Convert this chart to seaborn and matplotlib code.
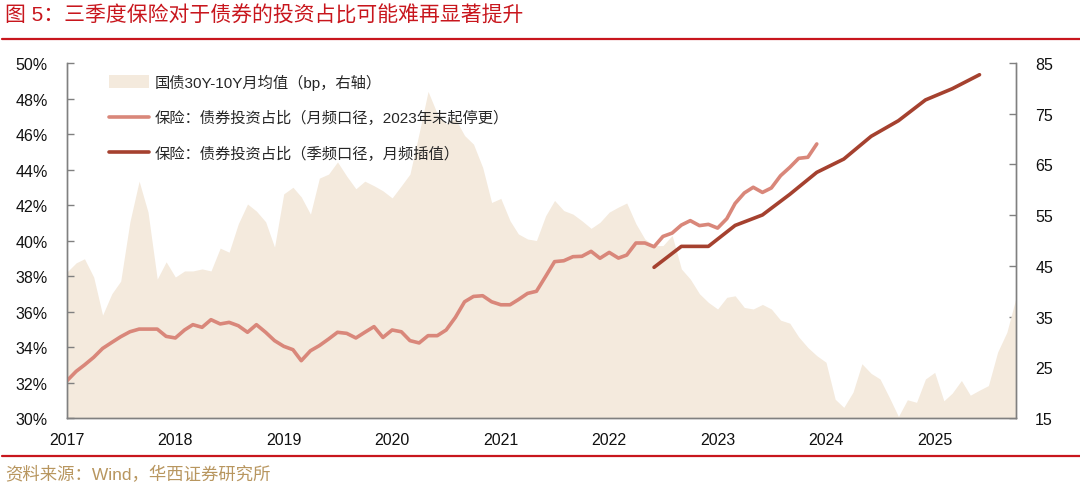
"""Insurance bond allocation vs 30Y-10Y government bond spread."""

import matplotlib

matplotlib.use("Agg")

import matplotlib.pyplot as plt
import pandas as pd
import seaborn as sns
from matplotlib.patches import Patch
from matplotlib.ticker import FuncFormatter, MultipleLocator

# 国债30Y-10Y 月均值 (bp), Jan 2017 - Oct 2025
spread_bp = [
    43.8, 45.6, 46.4, 42.8, 35.3, 39.5, 42.0, 53.7, 61.7, 55.6, 42.4, 45.8,
    42.8, 44.0, 44.0, 44.4, 44.0, 48.5, 47.7, 53.3, 57.2, 55.8, 53.7, 48.7,
    59.2, 60.5, 58.6, 55.2, 62.3, 63.1, 65.5, 62.7, 60.2, 61.7, 60.8, 59.8,
    58.4, 60.8, 63.1, 71.2, 79.4, 75.0, 73.0, 74.0, 70.7, 69.0, 64.4, 57.5,
    58.3, 53.9, 51.3, 50.3, 50.0, 54.9, 57.9, 55.9, 55.2, 53.9, 52.4, 53.6,
    55.6, 56.6, 57.4, 53.3, 50.3, 49.0, 49.0, 51.0, 44.4, 42.4, 39.5, 37.8,
    36.5, 38.8, 39.1, 36.8, 36.5, 37.4, 36.5, 34.3, 33.7, 31.0, 28.9, 27.3,
    26.0, 18.7, 17.1, 20.1, 25.7, 23.8, 22.7, 19.1, 15.3, 18.6, 18.1, 22.7,
    24.0, 18.4, 19.9, 22.4, 19.5, 20.5, 21.4, 28.0, 31.9, 38.5,
]

# 保险：债券投资占比 (月频口径), Jan 2017 - Dec 2023, %
monthly_share = [
    32.10, 32.63, 32.99, 33.42, 33.92, 34.26, 34.58, 34.86, 35.01, 35.01, 35.01, 34.60,
    34.51, 34.96, 35.26, 35.11, 35.54, 35.30, 35.39, 35.20, 34.83, 35.26, 34.83, 34.36,
    34.04, 33.85, 33.23, 33.79, 34.08, 34.45, 34.83, 34.77, 34.51, 34.83, 35.15, 34.54,
    34.96, 34.86, 34.36, 34.23, 34.64, 34.64, 34.96, 35.67, 36.55, 36.85, 36.89, 36.55,
    36.38, 36.38, 36.67, 37.02, 37.14, 37.98, 38.81, 38.86, 39.09, 39.11, 39.39, 39.00,
    39.33, 39.01, 39.18, 39.86, 39.86, 39.65, 40.23, 40.42, 40.87, 41.12, 40.84, 40.91,
    40.70, 41.23, 42.09, 42.68, 43.00, 42.71, 42.96, 43.65, 44.12, 44.63, 44.69, 45.44,
]

# 保险：债券投资占比 (季频口径), quarter ends Jun 2022 - Jun 2025, %
quarter_ends = [
    "2022-06", "2022-09", "2022-12", "2023-03", "2023-06", "2023-09", "2023-12",
    "2024-03", "2024-06", "2024-09", "2024-12", "2025-03", "2025-06",
]
quarterly_share = [
    38.49, 39.67, 39.67, 40.85, 41.44, 42.60, 43.84,
    44.59, 45.87, 46.75, 47.92, 48.55, 49.34,
]

right_ticks = [15, 25, 35, 45, 55, 65, 75, 85]

TITLE = "图 5：三季度保险对于债券的投资占比可能难再显著提升"
SOURCE = "资料来源：Wind，华西证券研究所"
LABEL_SPREAD = "国债30Y-10Y月均值（bp，右轴）"
LABEL_MONTHLY = "保险：债券投资占比（月频口径，2023年末起停更）"
LABEL_QUARTERLY = "保险：债券投资占比（季频口径，月频插值）"

FILL_COLOR = "#F4EADD"
MONTHLY_COLOR = "#D9877A"
QUARTERLY_COLOR = "#A5412F"
RED = "#C8161D"
SPINE_GRAY = "#808080"


def build_frames():
    spread_df = pd.DataFrame({
        "date": pd.date_range("2017-01-01", periods=len(spread_bp), freq="MS"),
        "spread": spread_bp,
    })
    monthly_df = pd.DataFrame({
        "date": pd.date_range("2017-01-01", periods=len(monthly_share), freq="MS"),
        "share": monthly_share,
    })
    quarterly_df = pd.DataFrame({
        "date": pd.to_datetime(quarter_ends),
        "share": quarterly_share,
    })
    return spread_df, monthly_df, quarterly_df


def plot_chart():
    sns.set_theme(style="white")
    plt.rcParams["font.family"] = ["Liberation Sans", "Noto Sans CJK SC", "DejaVu Sans"]

    spread_df, monthly_df, quarterly_df = build_frames()

    fig = plt.figure(figsize=(10.8, 4.89), dpi=100)
    ax = fig.add_axes([0.062, 0.1431, 0.8785, 0.726])
    ax2 = ax.twinx()
    ax.set_zorder(ax2.get_zorder() + 1)
    ax.patch.set_visible(False)

    ax2.fill_between(spread_df["date"], 15, spread_df["spread"],
                     color=FILL_COLOR, linewidth=0)
    sns.lineplot(data=monthly_df, x="date", y="share", ax=ax,
                 color=MONTHLY_COLOR, linewidth=2.6)
    sns.lineplot(data=quarterly_df, x="date", y="share", ax=ax,
                 color=QUARTERLY_COLOR, linewidth=2.6)

    ax.set_xlim(spread_df["date"].iloc[0], spread_df["date"].iloc[-1])
    ax.set_ylim(30, 50)
    ax2.set_ylim(15, 85)
    ax.yaxis.set_major_locator(MultipleLocator(2))
    ax.yaxis.set_major_formatter(FuncFormatter(lambda v, _: f"{v:.0f}%"))
    ax2.set_yticks(right_ticks)

    years = pd.date_range("2017-01-01", "2025-01-01", freq="YS")
    ax.set_xticks(years)
    ax.set_xticklabels([str(y.year) for y in years])
    ax.set_xlabel("")
    ax.set_ylabel("")

    for a in (ax, ax2):
        a.spines["top"].set_visible(False)
        for side in ("left", "right", "bottom"):
            a.spines[side].set_color(SPINE_GRAY)
            a.spines[side].set_linewidth(1.0)
    ax.tick_params(axis="both", direction="in", length=5, width=1,
                   color=SPINE_GRAY, labelsize=11.5, labelcolor="#111111")
    ax.tick_params(axis="x", pad=10)
    ax.tick_params(axis="y", pad=14)
    ax2.tick_params(axis="y", direction="in", length=5, width=1,
                    color=SPINE_GRAY, labelsize=11.5, labelcolor="#111111", pad=14)

    handles = [
        Patch(facecolor=FILL_COLOR, edgecolor="none"),
        plt.Line2D([], [], color=MONTHLY_COLOR, linewidth=2.6),
        plt.Line2D([], [], color=QUARTERLY_COLOR, linewidth=2.6),
    ]
    ax.legend(handles, [LABEL_SPREAD, LABEL_MONTHLY, LABEL_QUARTERLY],
              loc="upper left", bbox_to_anchor=(0.038, 0.988), frameon=False,
              fontsize=11, labelspacing=1.35, handlelength=2.6,
              handleheight=0.9, handletextpad=0.35, borderaxespad=0)

    fig.text(0.005, 0.969, TITLE, color=RED, fontsize=15, va="center", ha="left")
    fig.add_artist(plt.Line2D([0.002, 1.0], [0.918, 0.918], color=RED,
                              linewidth=1.6, transform=fig.transFigure))
    fig.add_artist(plt.Line2D([0.002, 1.0], [0.065, 0.065], color=RED,
                              linewidth=1.6, transform=fig.transFigure))
    fig.text(0.005, 0.029, SOURCE, color="#B8965F", fontsize=12.5,
             va="center", ha="left")

    fig.savefig("out.png", dpi=100)


if __name__ == "__main__":
    plot_chart()
